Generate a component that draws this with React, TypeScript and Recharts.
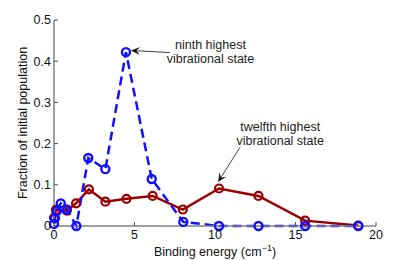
import {
  LineChart,
  Line,
  XAxis,
  YAxis,
  ReferenceLine,
  ReferenceDot,
  Label,
} from "recharts";

// ninth highest vibrational state (blue, dashed)
const ninthEnergy = [0, 0.06, 0.17, 0.42, 0.79, 1.39, 2.13, 3.19, 4.47, 6.07, 8.03, 10.25, 12.7, 15.6, 18.9];
const ninthFraction = [0.005, 0.019, 0.036, 0.055, 0.04, 0, 0.165, 0.138, 0.422, 0.114, 0.01, 0, 0, 0, 0];

// twelfth highest vibrational state (red, solid)
const twelfthEnergy = [0, 0.12, 0.79, 1.37, 2.17, 3.19, 4.5, 6.13, 8.0, 10.25, 12.7, 15.6, 18.9];
const twelfthFraction = [0.02, 0.039, 0.037, 0.055, 0.089, 0.059, 0.066, 0.073, 0.04, 0.091, 0.073, 0.013, 0.001];

const xTicks = [0, 5, 10, 15, 20];
const yTicks = [0, 0.1, 0.2, 0.3, 0.4, 0.5];

const ninth = ninthEnergy.map((x, i) => ({ x, y: ninthFraction[i] }));
const twelfth = twelfthEnergy.map((x, i) => ({ x, y: twelfthFraction[i] }));

const FONT = "'Liberation Sans', Arial, Helvetica, sans-serif";
const BLUE = "#1010ff";
const RED = "#9b0000";

function Arrow(props: any) {
  const { x1, y1, x2, y2 } = props;
  const ang = Math.atan2(y2 - y1, x2 - x1);
  const len = 9;
  const w = 4;
  const bx = x2 - len * Math.cos(ang);
  const by = y2 - len * Math.sin(ang);
  const nx = -Math.sin(ang) * w;
  const ny = Math.cos(ang) * w;
  const mx = x2 - len * 0.6 * Math.cos(ang);
  const my = y2 - len * 0.6 * Math.sin(ang);
  return (
    <g>
      <line x1={x1} y1={y1} x2={mx} y2={my} stroke="#111" strokeWidth={0.8} />
      <path
        d={`M${x2},${y2} L${bx + nx},${by + ny} L${mx},${my} L${bx - nx},${by - ny} Z`}
        fill="#111"
      />
    </g>
  );
}

function note(lines: string[]) {
  return (props: any) => (
    <text
      x={props.cx}
      y={props.cy}
      textAnchor="middle"
      fontFamily={FONT}
      fontSize={12.5}
      fill="#222"
    >
      {lines.map((l, i) => (
        <tspan key={i} x={props.cx} dy={i === 0 ? 0 : 14}>
          {l}
        </tspan>
      ))}
    </text>
  );
}

export default function App() {
  const tickStyle = { fontFamily: FONT, fontSize: 12.5, fill: "#111" };
  return (
    <div style={{ position: "fixed", left: 0, top: 0, width: 415, height: 260, background: "#fff" }}>
      <LineChart width={415} height={260} margin={{ top: 20, right: 39, bottom: 0, left: 0 }}>
        <XAxis
          dataKey="x"
          type="number"
          domain={[0, 20]}
          ticks={xTicks}
          height={34}
          tickSize={-4}
          tickMargin={8}
          tick={tickStyle}
          stroke="#808080"
          axisLine={{ stroke: "#808080", strokeWidth: 1.5 }}
          tickLine={{ stroke: "#555" }}
        >
          <Label
            content={(p: any) => {
              const vb = p.viewBox;
              return (
                <text
                  x={vb.x + vb.width / 2}
                  y={vb.y + vb.height - 4}
                  textAnchor="middle"
                  fontFamily={FONT}
                  fontSize={12.5}
                  fill="#111"
                >
                  <tspan>Binding energy (cm</tspan>
                  <tspan dy={-5} fontSize={9}>−1</tspan>
                  <tspan dy={5}>)</tspan>
                </text>
              );
            }}
          />
        </XAxis>
        <XAxis
          xAxisId="top"
          orientation="top"
          type="number"
          domain={[0, 20]}
          ticks={xTicks}
          height={0}
          tickSize={-4}
          tick={false}
          axisLine={{ stroke: "#222", strokeWidth: 1 }}
          tickLine={{ stroke: "#444" }}
        />
        <YAxis
          type="number"
          domain={[0, 0.5]}
          ticks={yTicks}
          width={54}
          tickSize={-4}
          tickMargin={7}
          tick={tickStyle}
          tickFormatter={(v: number) => String(v)}
          axisLine={{ stroke: "#808080", strokeWidth: 1.5 }}
          tickLine={{ stroke: "#555" }}
        >
          <Label
            content={(p: any) => {
              const vb = p.viewBox;
              const cx = vb.x + 23;
              const cy = vb.y + vb.height / 2;
              return (
                <text
                  x={cx}
                  y={cy}
                  textAnchor="middle"
                  dominantBaseline="central"
                  transform={`rotate(-90, ${cx}, ${cy})`}
                  fontFamily={FONT}
                  fontSize={12.5}
                  fill="#111"
                >
                  Fraction of initial population
                </text>
              );
            }}
          />
        </YAxis>
        <YAxis
          yAxisId="right"
          orientation="right"
          type="number"
          domain={[0, 0.5]}
          ticks={yTicks}
          width={0}
          tickSize={-4}
          tick={false}
          axisLine={{ stroke: "#222", strokeWidth: 1 }}
          tickLine={{ stroke: "#444" }}
        />
        <Line
          data={twelfth}
          dataKey="y"
          stroke={RED}
          strokeWidth={2.5}
          dot={{ r: 4, stroke: RED, strokeWidth: 2.2, fill: "none" }}
          isAnimationActive={false}
        />
        <Line
          data={ninth}
          dataKey="y"
          stroke={BLUE}
          strokeWidth={2.5}
          strokeDasharray="9 5"
          dot={{ r: 4, stroke: BLUE, strokeWidth: 2.4, fill: "none", strokeDasharray: "" }}
          isAnimationActive={false}
        />
        <ReferenceLine
          segment={[
            { x: 7.2, y: 0.421 },
            { x: 4.78, y: 0.426 },
          ]}
          shape={Arrow}
        />
        <ReferenceLine
          segment={[
            { x: 11.55, y: 0.191 },
            { x: 10.19, y: 0.1065 },
          ]}
          shape={Arrow}
        />
        <ReferenceDot x={9.72} y={0.4296} r={0} shape={note(["ninth highest", "vibrational state"])} />
        <ReferenceDot x={14.05} y={0.2306} r={0} shape={note(["twelfth highest", "vibrational state"])} />
      </LineChart>
    </div>
  );
}
